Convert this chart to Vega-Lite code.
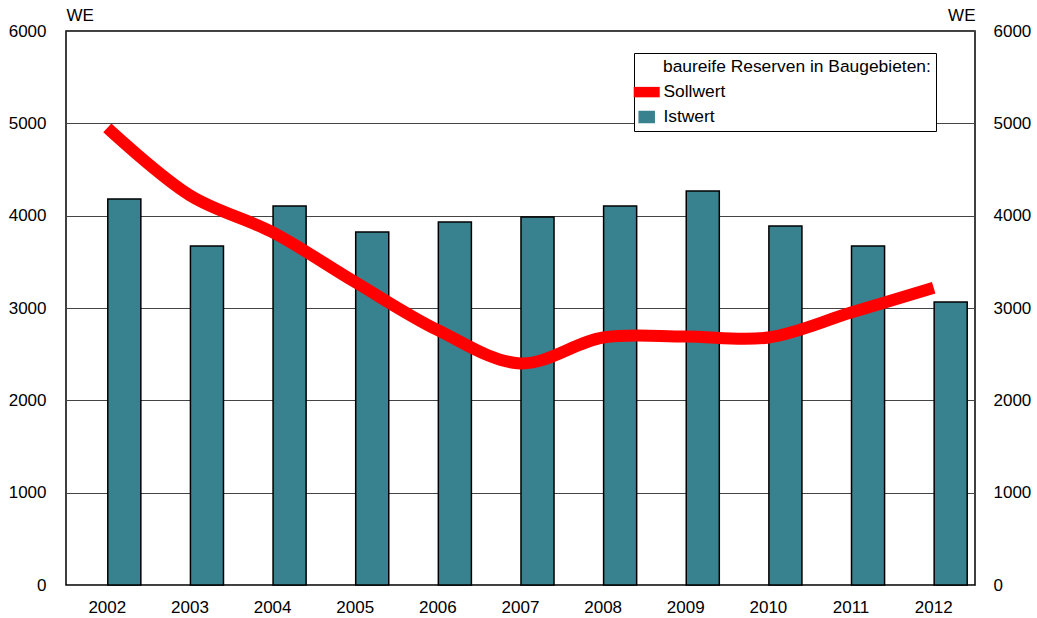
{
  "$schema": "https://vega.github.io/schema/vega-lite/v6.json",
  "width": 909,
  "height": 554,
  "autosize": "none",
  "padding": {"left": 66, "top": 31, "right": 62, "bottom": 33},
  "background": "white",
  "config": {
    "font": "Liberation Sans",
    "view": {"stroke": "#000000", "strokeWidth": 1.5},
    "axis": {"labelFont": "Liberation Sans", "labelFontSize": 17, "labelColor": "#000", "titleFont": "Liberation Sans", "titleFontSize": 17, "titleFontWeight": "normal", "titleColor": "#000", "domain": false, "ticks": false},
    "legend": {"labelFont": "Liberation Sans", "titleFont": "Liberation Sans"}
  },
  "datasets": {
    "ist": [
      {"year": "2002", "series": "Istwert", "value": 4180},
      {"year": "2003", "series": "Istwert", "value": 3672},
      {"year": "2004", "series": "Istwert", "value": 4105},
      {"year": "2005", "series": "Istwert", "value": 3823},
      {"year": "2006", "series": "Istwert", "value": 3931},
      {"year": "2007", "series": "Istwert", "value": 3986},
      {"year": "2008", "series": "Istwert", "value": 4105},
      {"year": "2009", "series": "Istwert", "value": 4267},
      {"year": "2010", "series": "Istwert", "value": 3888},
      {"year": "2011", "series": "Istwert", "value": 3672},
      {"year": "2012", "series": "Istwert", "value": 3065}
    ],
    "soll": [
      {"year": "2002", "series": "Sollwert", "value": 4950},
      {"year": "2003", "series": "Sollwert", "value": 4220},
      {"year": "2004", "series": "Sollwert", "value": 3820},
      {"year": "2005", "series": "Sollwert", "value": 3280},
      {"year": "2006", "series": "Sollwert", "value": 2760},
      {"year": "2007", "series": "Sollwert", "value": 2400},
      {"year": "2008", "series": "Sollwert", "value": 2680},
      {"year": "2009", "series": "Sollwert", "value": 2690},
      {"year": "2010", "series": "Sollwert", "value": 2680},
      {"year": "2011", "series": "Sollwert", "value": 2950},
      {"year": "2012", "series": "Sollwert", "value": 3220}
    ]
  },
  "encoding": {
    "x": {
      "field": "year", "type": "nominal",
      "scale": {"paddingInner": 0.6, "paddingOuter": 0.3},
      "axis": {"title": null, "labelAngle": 0, "labelPadding": 14, "grid": false}
    },
    "color": {
      "field": "series", "type": "nominal",
      "scale": {"domain": ["Sollwert", "Istwert"], "range": ["#ff0000", "#388290"]},
      "legend": {
        "title": "baureife Reserven in Baugebieten:",
        "orient": "none", "legendX": 568, "legendY": 22,
        "direction": "vertical",
        "padding": 5,
        "fillColor": "white", "strokeColor": "#000",
        "titleFontSize": 17.4, "titleFontWeight": "normal", "titleColor": "#000", "titleLimit": 600,
        "titlePadding": 8,
        "labelFontSize": 17.4, "labelColor": "#000", "labelOffset": 8,
        "symbolSize": 361, "symbolOffset": -1, "rowPadding": 6,
        "encode": {
          "title": {"update": {"dx": {"value": 24}}},
          "symbols": {"update": {
            "shape": {"signal": "datum.value === 'Sollwert' ? 'M-1.37,-0.55H1.37V0.55H-1.37Z' : 'M-0.79,-0.58H0.79V0.58H-0.79Z'"},
            "fill": {"signal": "datum.value === 'Sollwert' ? '#ff0000' : '#388290'"},
            "stroke": {"signal": "datum.value === 'Sollwert' ? '#ff0000' : '#000000'"},
            "strokeWidth": {"signal": "datum.value === 'Sollwert' ? 0 : 1.5"},
            "opacity": {"value": 1},
            "fillOpacity": {"value": 1},
            "strokeOpacity": {"value": 1}
          }}
        }
      }
    }
  },
  "layer": [
    {
      "data": {"name": "ist"},
      "mark": {"type": "bar", "xOffset": 17, "stroke": "#000", "strokeWidth": 1.5},
      "encoding": {
        "y": {
          "field": "value", "type": "quantitative",
          "scale": {"domain": [0, 6000]},
          "axis": {"values": [0, 1000, 2000, 3000, 4000, 5000, 6000], "format": "d", "grid": true, "gridColor": "#444", "gridWidth": 1, "gridOpacity": 1, "labelPadding": 20, "title": "WE", "titleAngle": 0, "titleX": 0, "titleY": -16, "titleAlign": "left", "titleBaseline": "middle"}
        }
      }
    },
    {
      "data": {"name": "soll"},
      "mark": {"type": "line", "strokeWidth": 12, "interpolate": "catmull-rom", "strokeCap": "butt"},
      "encoding": {
        "y": {
          "field": "value", "type": "quantitative",
          "scale": {"domain": [0, 6000]},
          "axis": {"orient": "right", "values": [0, 1000, 2000, 3000, 4000, 5000, 6000], "format": "d", "grid": false, "labelPadding": 18, "title": "WE", "titleAngle": 0, "titleX": 0, "titleY": -16, "titleAlign": "right", "titleBaseline": "middle"}
        }
      }
    }
  ],
  "resolve": {"scale": {"y": "independent"}}
}
